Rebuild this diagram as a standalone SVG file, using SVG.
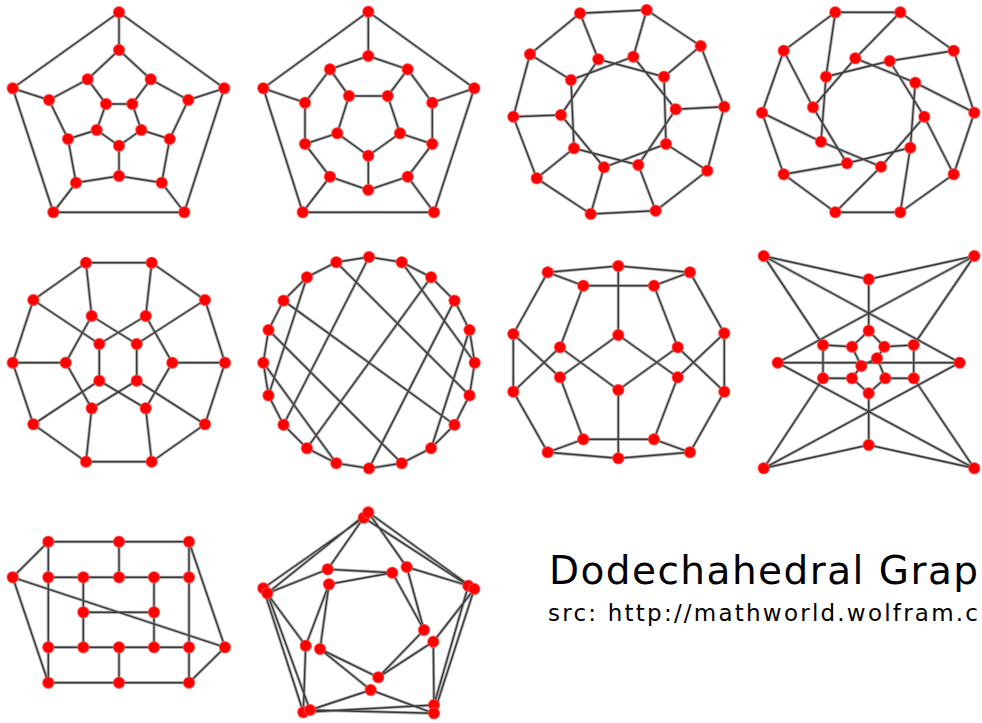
<svg xmlns="http://www.w3.org/2000/svg" xmlns:xlink="http://www.w3.org/1999/xlink" width="982" height="723" viewBox="0 0 982 723">
<style>
.h{fill:none;stroke:#b2b2b2;stroke-width:3.2;stroke-linejoin:round;stroke-linecap:round}
.k{fill:none;stroke:#3a3a3a;stroke-width:1.4;stroke-linejoin:round}
.n circle{fill:#ff0000;stroke:#ff5a5a;stroke-width:1.2;stroke-opacity:.6}
.t{font-family:"DejaVu Sans","Liberation Sans",sans-serif;fill:#000}
</style>
<defs>
<path id="e1" d="M119 12.3L12.7 88.3L53.3 212.3L184.3 212.3L224.3 88.3Z M119 12.3V50M12.7 88.3L49 100M224.3 88.3L188.3 100M53.3 212.3L76 182.7M184.3 212.3L161.7 182.7 M119 50L87.7 79.3L49 100L68 139L76 182.7L119 176L161.7 182.7L169.7 139L188.3 100L150.7 79.3Z M87.7 79.3L106 104M150.7 79.3L132.3 104M68 139L96.7 130M169.7 139L141.3 130M119 176V145.7 M106 104L132.3 104L141.3 130L119 145.7L96.7 130Z"/>
<path id="e2" d="M368.3 11.7L263.3 88.3L302.7 212.3L434 212.3L474.3 88.3Z M368.3 11.7V56M263.3 88.3L305 102.7M474.3 88.3L432.3 102.7M302.7 212.3L330 176.7M434 212.3L407.7 176.7 M368.3 56L330 69.3L305 102.7L305 144L330 176.7L368.3 190L407.7 176.7L432.3 144L432.3 102.7L407.7 69.3Z M330 69.3L349 96M407.7 69.3L387.7 96M305 144L337.3 133.3M432.3 144L400 133.3M368.3 190V155.7 M349 96L387.7 96L400 133.3L368.3 155.7L337.3 133.3Z"/>
<path id="e3" d="M580 13.3L646.7 10L700.7 46L724.3 106.7L707.3 170.7L655.7 210.7L590.7 214L536.7 178.3L513.3 116.7L530 54.3Z M580 13.3L598.3 59.3M646.7 10L633.3 56.7M700.7 46L664 76.7M724.3 106.7L675.7 109.3M707.3 170.7L666 144M655.7 210.7L638.3 165M590.7 214L604 167.3M536.7 178.3L574 148.3M513.3 116.7L561 115M530 54.3L571 80 M598.3 59.3L664 76.7L666 144L604 167.3L561 115Z M633.3 56.7L675.7 109.3L638.3 165L574 148.3L571 80Z"/>
<path id="e4" d="M835.3 12.3L900.3 12.3L953.7 50.7L974.3 112.7L953.7 174.3L900.3 212.3L835.3 212.3L783.7 174.3L762 112.7L783.7 50.7Z M835.3 12.3L826 76.7M900.3 12.3L855.3 58.3M953.7 50.7L889.7 61M974.3 112.7L915.3 82.7M953.7 174.3L924.3 116.7M900.3 212.3L910.3 147.7M835.3 212.3L881 166.7M783.7 174.3L847 163.3M762 112.7L821 141.7M783.7 50.7L813 107.3 M855.3 58.3L915.3 82.7L910.3 147.7L847 163.3L813 107.3Z M889.7 61L924.3 116.7L881 166.7L821 141.7L826 76.7Z"/>
<path id="e5" d="M86 262.7L151.7 262.7L205 300L225 362.7L205 424.3L151.7 461.7L86 461.7L33.3 424.3L12.7 362.7L33.3 300Z M86 262.7L91.7 316M151.7 262.7L145.7 316M12.7 362.7L65.7 362.7M225 362.7L172.3 362.7M86 461.7L91.7 408.3M151.7 461.7L145.7 408.3 M33.3 300L99.3 344M205 300L136.7 344M33.3 424.3L99.3 380.7M205 424.3L136.7 380.7 M99.3 344V380.7M136.7 344V380.7 M91.7 316L65.7 362.7L91.7 408.3M145.7 316L172.3 362.7L145.7 408.3 M91.7 316L136.7 344M145.7 316L99.3 344M91.7 408.3L136.7 380.7M145.7 408.3L99.3 380.7"/>
<path id="e6" d="M369 257L401.7 262.2L431.1 277.2L454.5 300.6L469.5 330L474.7 362.7L469.5 395.4L454.5 424.8L431.1 448.2L401.7 463.2L369 468.4L336.3 463.2L306.9 448.2L283.5 424.8L268.5 395.4L263.3 362.7L268.5 330L283.5 300.6L306.9 277.2L336.3 262.2Z M431.1 277.2L306.9 448.2M454.5 424.8L283.5 300.6M454.5 300.6L369 468.4M469.5 330L431.1 448.2M474.7 362.7L401.7 262.2M469.5 395.4L336.3 262.2M401.7 463.2L268.5 330M336.3 463.2L263.3 362.7M283.5 424.8L369 257M268.5 395.4L306.9 277.2"/>
<path id="e7" d="M547.7 272.3L618.3 266L690 272.3 M547.7 272.3L583.3 285.7L654 285.7L690 272.3 M618.3 266V335 M547.7 272.3L513.3 334L513.3 391.7L547.7 452.3 M690 272.3L724.3 333.3L724.3 391.7L690 452.3 M583.3 285.7L560 347.3 M654 285.7L677.7 347.3 M513.3 334L560 377.3 M513.3 391.7L560 347.3 M724.3 333.3L677.7 377.3 M724.3 391.7L677.7 347.3 M560 377.3L618.3 335L677.7 377.3 M560 347.3L618.3 390L677.7 347.3 M618.3 390V458.3 M560 377.3L583.3 439.3L654 439.3L677.7 377.3 M547.7 452.3L583.3 439.3 M690 452.3L654 439.3 M547.7 452.3L618.3 458.3L690 452.3"/>
<path id="e8" d="M763.7 256L868.7 279.3L974.3 256 M868.7 279.3V330.7 M763.7 256L823 345 M763.7 256L959.7 362.7 M974.3 256L777.7 362.7 M974.3 256L913.7 345 M763.7 468.3L868.7 445L974.3 468.3 M868.7 445V393.3 M763.7 468.3L823 378.3 M763.7 468.3L959.7 362.7 M974.3 468.3L777.7 362.7 M974.3 468.3L913.7 378.3 M777.7 362.7H959.7 M823 345V378.3M913.7 345V378.3 M823 345L852 346.7L868.7 330.7L884.3 346.7L913.7 345 M823 378.3L852 378.3L868.7 393.3L885.3 378.3L913.7 378.3 M852 346.7L861.3 366L852 378.3 M884.3 346.7L877 358.3L885.3 378.3 M877 358.3L861.3 366"/>
<path id="e9" d="M48.3 541.7H189 M48.3 541.7L12.7 577.3 M48.3 541.7V682.7 M119 541.7V577.3 M189 541.7V682.7 M189 541.7L225 647.3 M12.7 577.3L225 647.3 M12.7 577.3L48.3 682.7 M48.3 577.3H189 M83.3 577.3V647.3 M154 577.3V647.3 M83.3 612.3H154 M48.3 647.3H189 M119 647.3V682.7 M48.3 682.7H189 M189 682.7L225 647.3"/>
<path id="e10" d="M363.7 517.7L263.3 588.3M368.3 512.3L267.3 593.3 M363.7 517.7L468.3 585.7M368.3 512.3L474.3 589 M263.3 588.3L303.3 712.3M267.3 593.3L310 710 M468.3 585.7L434 705M474.3 589L434 713.3 M303.3 712.3L434 705M310 710L434 713.3 M363.7 517.7L327.7 569.3M368.3 512.3L406.7 567M267.3 593.3L327.7 569.3M263.3 588.3L305.7 645.7M468.3 585.7L406.7 567M474.3 589L433.3 641.7M303.3 712.3L305.7 645.7M310 710L370.7 690M434 705L433.3 641.7M434 713.3L370.7 690 M327.7 569.3L392.3 572.7L329 584.3 M392.3 572.7L424 630L406.7 567 M424 630L378.3 677.3L433.3 641.7 M329 584.3L305.7 645.7 M329 584.3L320 649 M320 649L378.3 677.3 M320 649L370.7 690"/>
</defs>
<rect width="982" height="723" fill="#fff"/>
<g id="connectors">
<use xlink:href="#e1" class="h"/><use xlink:href="#e1" class="k"/>
<use xlink:href="#e2" class="h"/><use xlink:href="#e2" class="k"/>
<use xlink:href="#e3" class="h"/><use xlink:href="#e3" class="k"/>
<use xlink:href="#e4" class="h"/><use xlink:href="#e4" class="k"/>
<use xlink:href="#e5" class="h"/><use xlink:href="#e5" class="k"/>
<use xlink:href="#e6" class="h"/><use xlink:href="#e6" class="k"/>
<use xlink:href="#e7" class="h"/><use xlink:href="#e7" class="k"/>
<use xlink:href="#e8" class="h"/><use xlink:href="#e8" class="k"/>
<use xlink:href="#e9" class="h"/><use xlink:href="#e9" class="k"/>
<use xlink:href="#e10" class="h"/><use xlink:href="#e10" class="k"/>
</g>
<g id="graph1">
<g id="p1n1" class="n"><circle cx="119" cy="12.3" r="5.7"/></g>
<g id="p1n2" class="n"><circle cx="12.7" cy="88.3" r="5.7"/></g>
<g id="p1n3" class="n"><circle cx="224.3" cy="88.3" r="5.7"/></g>
<g id="p1n4" class="n"><circle cx="53.3" cy="212.3" r="5.7"/></g>
<g id="p1n5" class="n"><circle cx="184.3" cy="212.3" r="5.7"/></g>
<g id="p1n6" class="n"><circle cx="119" cy="50" r="5.7"/></g>
<g id="p1n7" class="n"><circle cx="49" cy="100" r="5.7"/></g>
<g id="p1n8" class="n"><circle cx="188.3" cy="100" r="5.7"/></g>
<g id="p1n9" class="n"><circle cx="76" cy="182.7" r="5.7"/></g>
<g id="p1n10" class="n"><circle cx="161.7" cy="182.7" r="5.7"/></g>
<g id="p1n11" class="n"><circle cx="87.7" cy="79.3" r="5.7"/></g>
<g id="p1n12" class="n"><circle cx="150.7" cy="79.3" r="5.7"/></g>
<g id="p1n13" class="n"><circle cx="68" cy="139" r="5.7"/></g>
<g id="p1n14" class="n"><circle cx="169.7" cy="139" r="5.7"/></g>
<g id="p1n15" class="n"><circle cx="119" cy="176" r="5.7"/></g>
<g id="p1n16" class="n"><circle cx="106" cy="104" r="5.7"/></g>
<g id="p1n17" class="n"><circle cx="132.3" cy="104" r="5.7"/></g>
<g id="p1n18" class="n"><circle cx="96.7" cy="130" r="5.7"/></g>
<g id="p1n19" class="n"><circle cx="141.3" cy="130" r="5.7"/></g>
<g id="p1n20" class="n"><circle cx="119" cy="145.7" r="5.7"/></g>
</g>
<g id="graph2">
<g id="p2n1" class="n"><circle cx="368.3" cy="11.7" r="5.7"/></g>
<g id="p2n2" class="n"><circle cx="263.3" cy="88.3" r="5.7"/></g>
<g id="p2n3" class="n"><circle cx="474.3" cy="88.3" r="5.7"/></g>
<g id="p2n4" class="n"><circle cx="302.7" cy="212.3" r="5.7"/></g>
<g id="p2n5" class="n"><circle cx="434" cy="212.3" r="5.7"/></g>
<g id="p2n6" class="n"><circle cx="368.3" cy="56" r="5.7"/></g>
<g id="p2n7" class="n"><circle cx="330" cy="69.3" r="5.7"/></g>
<g id="p2n8" class="n"><circle cx="407.7" cy="69.3" r="5.7"/></g>
<g id="p2n9" class="n"><circle cx="305" cy="102.7" r="5.7"/></g>
<g id="p2n10" class="n"><circle cx="432.3" cy="102.7" r="5.7"/></g>
<g id="p2n11" class="n"><circle cx="305" cy="144" r="5.7"/></g>
<g id="p2n12" class="n"><circle cx="432.3" cy="144" r="5.7"/></g>
<g id="p2n13" class="n"><circle cx="330" cy="176.7" r="5.7"/></g>
<g id="p2n14" class="n"><circle cx="407.7" cy="176.7" r="5.7"/></g>
<g id="p2n15" class="n"><circle cx="368.3" cy="190" r="5.7"/></g>
<g id="p2n16" class="n"><circle cx="349" cy="96" r="5.7"/></g>
<g id="p2n17" class="n"><circle cx="387.7" cy="96" r="5.7"/></g>
<g id="p2n18" class="n"><circle cx="400" cy="133.3" r="5.7"/></g>
<g id="p2n19" class="n"><circle cx="368.3" cy="155.7" r="5.7"/></g>
<g id="p2n20" class="n"><circle cx="337.3" cy="133.3" r="5.7"/></g>
</g>
<g id="graph3">
<g id="p3n1" class="n"><circle cx="580" cy="13.3" r="5.7"/></g>
<g id="p3n2" class="n"><circle cx="646.7" cy="10" r="5.7"/></g>
<g id="p3n3" class="n"><circle cx="700.7" cy="46" r="5.7"/></g>
<g id="p3n4" class="n"><circle cx="724.3" cy="106.7" r="5.7"/></g>
<g id="p3n5" class="n"><circle cx="707.3" cy="170.7" r="5.7"/></g>
<g id="p3n6" class="n"><circle cx="655.7" cy="210.7" r="5.7"/></g>
<g id="p3n7" class="n"><circle cx="590.7" cy="214" r="5.7"/></g>
<g id="p3n8" class="n"><circle cx="536.7" cy="178.3" r="5.7"/></g>
<g id="p3n9" class="n"><circle cx="513.3" cy="116.7" r="5.7"/></g>
<g id="p3n10" class="n"><circle cx="530" cy="54.3" r="5.7"/></g>
<g id="p3n11" class="n"><circle cx="598.3" cy="59.3" r="5.7"/></g>
<g id="p3n12" class="n"><circle cx="633.3" cy="56.7" r="5.7"/></g>
<g id="p3n13" class="n"><circle cx="664" cy="76.7" r="5.7"/></g>
<g id="p3n14" class="n"><circle cx="675.7" cy="109.3" r="5.7"/></g>
<g id="p3n15" class="n"><circle cx="666" cy="144" r="5.7"/></g>
<g id="p3n16" class="n"><circle cx="638.3" cy="165" r="5.7"/></g>
<g id="p3n17" class="n"><circle cx="604" cy="167.3" r="5.7"/></g>
<g id="p3n18" class="n"><circle cx="574" cy="148.3" r="5.7"/></g>
<g id="p3n19" class="n"><circle cx="561" cy="115" r="5.7"/></g>
<g id="p3n20" class="n"><circle cx="571" cy="80" r="5.7"/></g>
</g>
<g id="graph4">
<g id="p4n1" class="n"><circle cx="835.3" cy="12.3" r="5.7"/></g>
<g id="p4n2" class="n"><circle cx="900.3" cy="12.3" r="5.7"/></g>
<g id="p4n3" class="n"><circle cx="953.7" cy="50.7" r="5.7"/></g>
<g id="p4n4" class="n"><circle cx="974.3" cy="112.7" r="5.7"/></g>
<g id="p4n5" class="n"><circle cx="953.7" cy="174.3" r="5.7"/></g>
<g id="p4n6" class="n"><circle cx="900.3" cy="212.3" r="5.7"/></g>
<g id="p4n7" class="n"><circle cx="835.3" cy="212.3" r="5.7"/></g>
<g id="p4n8" class="n"><circle cx="783.7" cy="174.3" r="5.7"/></g>
<g id="p4n9" class="n"><circle cx="762" cy="112.7" r="5.7"/></g>
<g id="p4n10" class="n"><circle cx="783.7" cy="50.7" r="5.7"/></g>
<g id="p4n11" class="n"><circle cx="855.3" cy="58.3" r="5.7"/></g>
<g id="p4n12" class="n"><circle cx="889.7" cy="61" r="5.7"/></g>
<g id="p4n13" class="n"><circle cx="915.3" cy="82.7" r="5.7"/></g>
<g id="p4n14" class="n"><circle cx="924.3" cy="116.7" r="5.7"/></g>
<g id="p4n15" class="n"><circle cx="910.3" cy="147.7" r="5.7"/></g>
<g id="p4n16" class="n"><circle cx="881" cy="166.7" r="5.7"/></g>
<g id="p4n17" class="n"><circle cx="847" cy="163.3" r="5.7"/></g>
<g id="p4n18" class="n"><circle cx="821" cy="141.7" r="5.7"/></g>
<g id="p4n19" class="n"><circle cx="813" cy="107.3" r="5.7"/></g>
<g id="p4n20" class="n"><circle cx="826" cy="76.7" r="5.7"/></g>
</g>
<g id="graph5">
<g id="p5n1" class="n"><circle cx="86" cy="262.7" r="5.7"/></g>
<g id="p5n2" class="n"><circle cx="151.7" cy="262.7" r="5.7"/></g>
<g id="p5n3" class="n"><circle cx="205" cy="300" r="5.7"/></g>
<g id="p5n4" class="n"><circle cx="225" cy="362.7" r="5.7"/></g>
<g id="p5n5" class="n"><circle cx="205" cy="424.3" r="5.7"/></g>
<g id="p5n6" class="n"><circle cx="151.7" cy="461.7" r="5.7"/></g>
<g id="p5n7" class="n"><circle cx="86" cy="461.7" r="5.7"/></g>
<g id="p5n8" class="n"><circle cx="33.3" cy="424.3" r="5.7"/></g>
<g id="p5n9" class="n"><circle cx="12.7" cy="362.7" r="5.7"/></g>
<g id="p5n10" class="n"><circle cx="33.3" cy="300" r="5.7"/></g>
<g id="p5n11" class="n"><circle cx="91.7" cy="316" r="5.7"/></g>
<g id="p5n12" class="n"><circle cx="145.7" cy="316" r="5.7"/></g>
<g id="p5n13" class="n"><circle cx="99.3" cy="344" r="5.7"/></g>
<g id="p5n14" class="n"><circle cx="136.7" cy="344" r="5.7"/></g>
<g id="p5n15" class="n"><circle cx="65.7" cy="362.7" r="5.7"/></g>
<g id="p5n16" class="n"><circle cx="172.3" cy="362.7" r="5.7"/></g>
<g id="p5n17" class="n"><circle cx="99.3" cy="380.7" r="5.7"/></g>
<g id="p5n18" class="n"><circle cx="136.7" cy="380.7" r="5.7"/></g>
<g id="p5n19" class="n"><circle cx="91.7" cy="408.3" r="5.7"/></g>
<g id="p5n20" class="n"><circle cx="145.7" cy="408.3" r="5.7"/></g>
</g>
<g id="graph6">
<g id="p6n1" class="n"><circle cx="369" cy="257" r="5.7"/></g>
<g id="p6n2" class="n"><circle cx="401.7" cy="262.2" r="5.7"/></g>
<g id="p6n3" class="n"><circle cx="431.1" cy="277.2" r="5.7"/></g>
<g id="p6n4" class="n"><circle cx="454.5" cy="300.6" r="5.7"/></g>
<g id="p6n5" class="n"><circle cx="469.5" cy="330" r="5.7"/></g>
<g id="p6n6" class="n"><circle cx="474.7" cy="362.7" r="5.7"/></g>
<g id="p6n7" class="n"><circle cx="469.5" cy="395.4" r="5.7"/></g>
<g id="p6n8" class="n"><circle cx="454.5" cy="424.8" r="5.7"/></g>
<g id="p6n9" class="n"><circle cx="431.1" cy="448.2" r="5.7"/></g>
<g id="p6n10" class="n"><circle cx="401.7" cy="463.2" r="5.7"/></g>
<g id="p6n11" class="n"><circle cx="369" cy="468.4" r="5.7"/></g>
<g id="p6n12" class="n"><circle cx="336.3" cy="463.2" r="5.7"/></g>
<g id="p6n13" class="n"><circle cx="306.9" cy="448.2" r="5.7"/></g>
<g id="p6n14" class="n"><circle cx="283.5" cy="424.8" r="5.7"/></g>
<g id="p6n15" class="n"><circle cx="268.5" cy="395.4" r="5.7"/></g>
<g id="p6n16" class="n"><circle cx="263.3" cy="362.7" r="5.7"/></g>
<g id="p6n17" class="n"><circle cx="268.5" cy="330" r="5.7"/></g>
<g id="p6n18" class="n"><circle cx="283.5" cy="300.6" r="5.7"/></g>
<g id="p6n19" class="n"><circle cx="306.9" cy="277.2" r="5.7"/></g>
<g id="p6n20" class="n"><circle cx="336.3" cy="262.2" r="5.7"/></g>
</g>
<g id="graph7">
<g id="p7n1" class="n"><circle cx="547.7" cy="272.3" r="5.7"/></g>
<g id="p7n2" class="n"><circle cx="618.3" cy="266" r="5.7"/></g>
<g id="p7n3" class="n"><circle cx="690" cy="272.3" r="5.7"/></g>
<g id="p7n4" class="n"><circle cx="583.3" cy="285.7" r="5.7"/></g>
<g id="p7n5" class="n"><circle cx="654" cy="285.7" r="5.7"/></g>
<g id="p7n6" class="n"><circle cx="513.3" cy="334" r="5.7"/></g>
<g id="p7n7" class="n"><circle cx="618.3" cy="335" r="5.7"/></g>
<g id="p7n8" class="n"><circle cx="724.3" cy="333.3" r="5.7"/></g>
<g id="p7n9" class="n"><circle cx="560" cy="347.3" r="5.7"/></g>
<g id="p7n10" class="n"><circle cx="677.7" cy="347.3" r="5.7"/></g>
<g id="p7n11" class="n"><circle cx="560" cy="377.3" r="5.7"/></g>
<g id="p7n12" class="n"><circle cx="677.7" cy="377.3" r="5.7"/></g>
<g id="p7n13" class="n"><circle cx="513.3" cy="391.7" r="5.7"/></g>
<g id="p7n14" class="n"><circle cx="618.3" cy="390" r="5.7"/></g>
<g id="p7n15" class="n"><circle cx="724.3" cy="391.7" r="5.7"/></g>
<g id="p7n16" class="n"><circle cx="583.3" cy="439.3" r="5.7"/></g>
<g id="p7n17" class="n"><circle cx="654" cy="439.3" r="5.7"/></g>
<g id="p7n18" class="n"><circle cx="547.7" cy="452.3" r="5.7"/></g>
<g id="p7n19" class="n"><circle cx="618.3" cy="458.3" r="5.7"/></g>
<g id="p7n20" class="n"><circle cx="690" cy="452.3" r="5.7"/></g>
</g>
<g id="graph8">
<g id="p8n1" class="n"><circle cx="763.7" cy="256" r="5.7"/></g>
<g id="p8n2" class="n"><circle cx="974.3" cy="256" r="5.7"/></g>
<g id="p8n3" class="n"><circle cx="868.7" cy="279.3" r="5.7"/></g>
<g id="p8n4" class="n"><circle cx="868.7" cy="330.7" r="5.7"/></g>
<g id="p8n5" class="n"><circle cx="823" cy="345" r="5.7"/></g>
<g id="p8n6" class="n"><circle cx="852" cy="346.7" r="5.7"/></g>
<g id="p8n7" class="n"><circle cx="884.3" cy="346.7" r="5.7"/></g>
<g id="p8n8" class="n"><circle cx="913.7" cy="345" r="5.7"/></g>
<g id="p8n9" class="n"><circle cx="777.7" cy="362.7" r="5.7"/></g>
<g id="p8n10" class="n"><circle cx="959.7" cy="362.7" r="5.7"/></g>
<g id="p8n11" class="n"><circle cx="877" cy="358.3" r="5.7"/></g>
<g id="p8n12" class="n"><circle cx="861.3" cy="366" r="5.7"/></g>
<g id="p8n13" class="n"><circle cx="823" cy="378.3" r="5.7"/></g>
<g id="p8n14" class="n"><circle cx="852" cy="378.3" r="5.7"/></g>
<g id="p8n15" class="n"><circle cx="885.3" cy="378.3" r="5.7"/></g>
<g id="p8n16" class="n"><circle cx="913.7" cy="378.3" r="5.7"/></g>
<g id="p8n17" class="n"><circle cx="868.7" cy="393.3" r="5.7"/></g>
<g id="p8n18" class="n"><circle cx="868.7" cy="445" r="5.7"/></g>
<g id="p8n19" class="n"><circle cx="763.7" cy="468.3" r="5.7"/></g>
<g id="p8n20" class="n"><circle cx="974.3" cy="468.3" r="5.7"/></g>
</g>
<g id="graph9">
<g id="p9n1" class="n"><circle cx="48.3" cy="541.7" r="5.7"/></g>
<g id="p9n2" class="n"><circle cx="119" cy="541.7" r="5.7"/></g>
<g id="p9n3" class="n"><circle cx="189" cy="541.7" r="5.7"/></g>
<g id="p9n4" class="n"><circle cx="12.7" cy="577.3" r="5.7"/></g>
<g id="p9n5" class="n"><circle cx="48.3" cy="577.3" r="5.7"/></g>
<g id="p9n6" class="n"><circle cx="83.3" cy="577.3" r="5.7"/></g>
<g id="p9n7" class="n"><circle cx="119" cy="577.3" r="5.7"/></g>
<g id="p9n8" class="n"><circle cx="154" cy="577.3" r="5.7"/></g>
<g id="p9n9" class="n"><circle cx="189" cy="577.3" r="5.7"/></g>
<g id="p9n10" class="n"><circle cx="83.3" cy="612.3" r="5.7"/></g>
<g id="p9n11" class="n"><circle cx="154" cy="612.3" r="5.7"/></g>
<g id="p9n12" class="n"><circle cx="48.3" cy="647.3" r="5.7"/></g>
<g id="p9n13" class="n"><circle cx="83.3" cy="647.3" r="5.7"/></g>
<g id="p9n14" class="n"><circle cx="119" cy="647.3" r="5.7"/></g>
<g id="p9n15" class="n"><circle cx="154" cy="647.3" r="5.7"/></g>
<g id="p9n16" class="n"><circle cx="189" cy="647.3" r="5.7"/></g>
<g id="p9n17" class="n"><circle cx="225" cy="647.3" r="5.7"/></g>
<g id="p9n18" class="n"><circle cx="48.3" cy="682.7" r="5.7"/></g>
<g id="p9n19" class="n"><circle cx="119" cy="682.7" r="5.7"/></g>
<g id="p9n20" class="n"><circle cx="189" cy="682.7" r="5.7"/></g>
</g>
<g id="graph10">
<g id="p10n1" class="n"><circle cx="363.7" cy="517.7" r="5.7"/></g>
<g id="p10n2" class="n"><circle cx="368.3" cy="512.3" r="5.7"/></g>
<g id="p10n3" class="n"><circle cx="263.3" cy="588.3" r="5.7"/></g>
<g id="p10n4" class="n"><circle cx="267.3" cy="593.3" r="5.7"/></g>
<g id="p10n5" class="n"><circle cx="468.3" cy="585.7" r="5.7"/></g>
<g id="p10n6" class="n"><circle cx="474.3" cy="589" r="5.7"/></g>
<g id="p10n7" class="n"><circle cx="303.3" cy="712.3" r="5.7"/></g>
<g id="p10n8" class="n"><circle cx="310" cy="710" r="5.7"/></g>
<g id="p10n9" class="n"><circle cx="434" cy="705" r="5.7"/></g>
<g id="p10n10" class="n"><circle cx="434" cy="713.3" r="5.7"/></g>
<g id="p10n11" class="n"><circle cx="327.7" cy="569.3" r="5.7"/></g>
<g id="p10n12" class="n"><circle cx="329" cy="584.3" r="5.7"/></g>
<g id="p10n13" class="n"><circle cx="392.3" cy="572.7" r="5.7"/></g>
<g id="p10n14" class="n"><circle cx="406.7" cy="567" r="5.7"/></g>
<g id="p10n15" class="n"><circle cx="424" cy="630" r="5.7"/></g>
<g id="p10n16" class="n"><circle cx="433.3" cy="641.7" r="5.7"/></g>
<g id="p10n17" class="n"><circle cx="305.7" cy="645.7" r="5.7"/></g>
<g id="p10n18" class="n"><circle cx="320" cy="649" r="5.7"/></g>
<g id="p10n19" class="n"><circle cx="378.3" cy="677.3" r="5.7"/></g>
<g id="p10n20" class="n"><circle cx="370.7" cy="690" r="5.7"/></g>
</g>
<g id="caption">
<text class="t" x="549" y="584" font-size="39" textLength="429" lengthAdjust="spacing">Dodechahedral Grap</text>
<text class="t" x="548" y="621" font-size="23" textLength="430" lengthAdjust="spacing">src: http://mathworld.wolfram.c</text>
</g>
</svg>
